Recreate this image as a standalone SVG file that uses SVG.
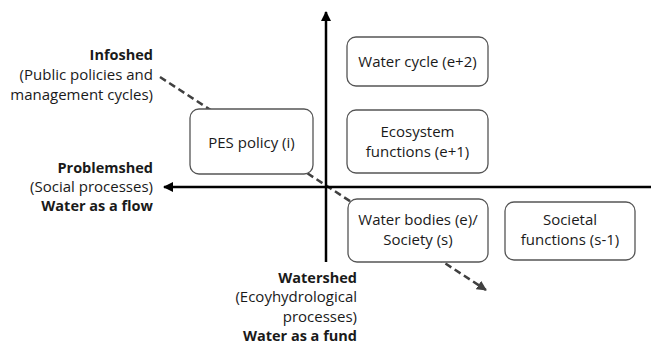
<svg xmlns="http://www.w3.org/2000/svg" width="651" height="350" viewBox="0 0 651 350">
<style>
text{font-family:"Open Sans","Lato","Liberation Sans",sans-serif;font-size:15px;fill:#1a1a1a}
.b{font-weight:bold;font-size:14.5px}
.r{text-anchor:end}
.c{text-anchor:middle}
.box{fill:#fff;stroke:#555;stroke-width:1.3}
.axis{stroke:#000;stroke-width:2.5;fill:none}
.dash{stroke:#404040;stroke-width:2.5;stroke-dasharray:7 4;fill:none}
</style>
<defs>
<marker id="ah" viewBox="0 0 10 10" refX="9" refY="5" markerWidth="4" markerHeight="4" orient="auto" markerUnits="strokeWidth">
<path d="M0,0 L10,5 L0,10 z" fill="#000"/>
</marker>
<marker id="ahd" viewBox="0 0 10 10" refX="9" refY="5" markerWidth="4" markerHeight="4" orient="auto" markerUnits="strokeWidth">
<path d="M0,0 L10,5 L0,10 z" fill="#404040"/>
</marker>
</defs>
<g id="connectors">
<line class="dash" x1="160" y1="77" x2="486" y2="290" marker-end="url(#ahd)"/>
<line class="axis" x1="326" y1="262" x2="326" y2="12" marker-end="url(#ah)"/>
<line class="axis" x1="651" y1="187" x2="164" y2="187" marker-end="url(#ah)"/>
</g>
<g id="water-cycle">
<rect class="box" x="347" y="37" width="141" height="49" rx="9"/>
<text class="c" x="417.5" y="67">Water cycle (e+2)</text>
</g>
<g id="ecosystem-functions">
<rect class="box" x="347" y="110" width="141" height="63" rx="9"/>
<text class="c" x="417.5" y="137">Ecosystem</text>
<text class="c" x="417.5" y="157">functions (e+1)</text>
</g>
<g id="pes-policy">
<rect class="box" x="190" y="109" width="123" height="65" rx="9"/>
<text class="c" x="251.5" y="148">PES policy (i)</text>
</g>
<g id="water-bodies">
<rect class="box" x="348" y="199" width="140" height="63" rx="9"/>
<text class="c" x="418" y="225">Water bodies (e)/</text>
<text class="c" x="418" y="245">Society (s)</text>
</g>
<g id="societal-functions">
<rect class="box" x="505" y="202" width="130" height="58" rx="9"/>
<text class="c" x="570" y="225">Societal</text>
<text class="c" x="570" y="245">functions (s-1)</text>
</g>
<g id="infoshed">
<text class="r b" x="153" y="60">Infoshed</text>
<text class="r" x="153" y="80">(Public policies and</text>
<text class="r" x="153" y="100">management cycles)</text>
</g>
<g id="problemshed">
<text class="r b" x="153" y="173">Problemshed</text>
<text class="r" x="153" y="192">(Social processes)</text>
<text class="r b" x="153" y="211">Water as a flow</text>
</g>
<g id="watershed">
<text class="r b" x="357" y="283">Watershed</text>
<text class="r" x="357" y="302">(Ecoyhydrological</text>
<text class="r" x="357" y="322">processes)</text>
<text class="r b" x="357" y="341">Water as a fund</text>
</g>
</svg>
